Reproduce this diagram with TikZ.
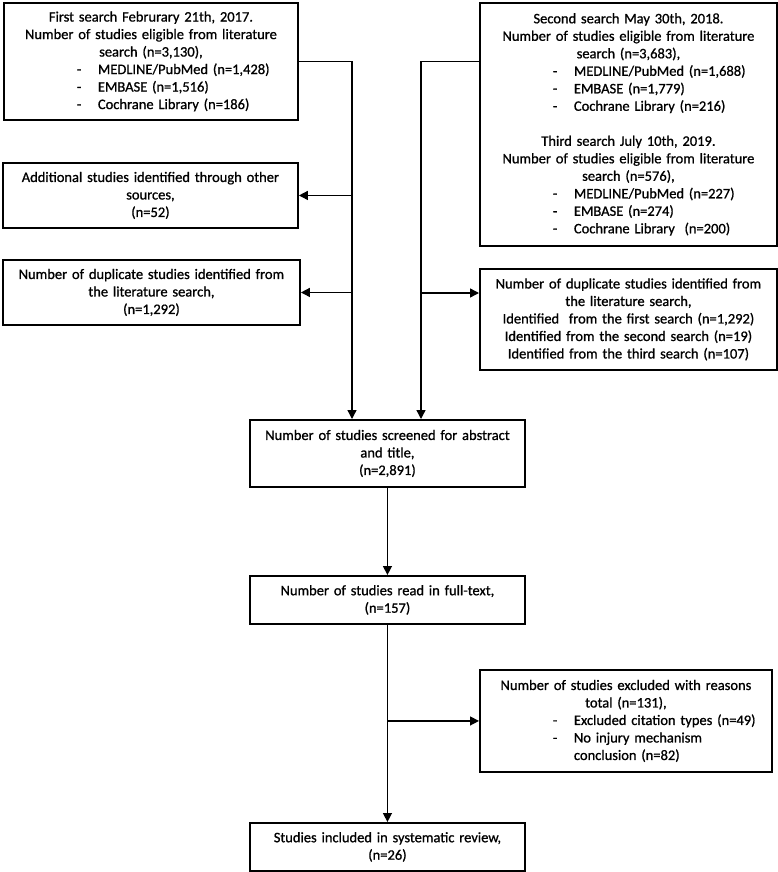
\documentclass[tikz,border=0pt]{standalone}
\usepackage{fontspec}
\setmainfont{Carlito}[FakeBold=0.9]
\usetikzlibrary{arrows.meta}
\newcommand\cl[1]{\makebox[\linewidth][c]{#1}}
\newcommand\bl[1]{\hspace*{73pt}\makebox[21pt][l]{-}#1}
\tikzset{
  box/.style={draw, line width=1.9pt, inner xsep=0pt, inner ysep=2pt, align=left,
    anchor=north west, font=\fontsize{14.5}{17.5}\selectfont},
  arr/.style={line width=1.4pt, -{Triangle[length=9pt,width=9pt]}},
}
\begin{document}
\begin{tikzpicture}[x=1pt,y=-1pt]
\useasboundingbox (0,0) rectangle (778,872);
\node[box, text width=294pt, minimum height=117pt] (A) at (3,2) {%
\cl{First search Februrary 21th, 2017.}\\
\cl{Number of studies eligible from literature}\\
\cl{search (n=3,130),}\\
\bl{MEDLINE/PubMed (n=1,428)}\\
\bl{EMBASE (n=1,516)}\\
\bl{Cochrane Library (n=186)}};
\node[box, text width=297pt, minimum height=243pt] (B) at (479,2) {%
\cl{Second search May 30th, 2018.}\\
\cl{Number of studies eligible from literature}\\
\cl{search (n=3,683),}\\
\bl{MEDLINE/PubMed (n=1,688)}\\
\bl{EMBASE (n=1,779)}\\
\bl{Cochrane Library (n=216)}\\
\cl{}\\
\cl{Third search July 10th, 2019.}\\
\cl{Number of studies eligible from literature}\\
\cl{search (n=576),}\\
\bl{MEDLINE/PubMed (n=227)}\\
\bl{EMBASE (n=274)}\\
\bl{Cochrane Library \ (n=200)}};
\node[box, text width=295pt, minimum height=65pt] (C) at (2,162) {%
\cl{Additional studies identified through other}\\
\cl{sources,}\\
\cl{(n=52)}};
\node[box, text width=297pt, minimum height=65pt] (D) at (2,259) {%
\cl{Number of duplicate studies identified from}\\
\cl{the literature search,}\\
\cl{(n=1,292)}};
\node[box, text width=297pt, minimum height=101pt] (E) at (479,268) {%
\cl{Number of duplicate studies identified from}\\
\cl{the literature search,}\\
\cl{Identified \ from the first search (n=1,292)}\\
\cl{Identified from the second search (n=19)}\\
\cl{Identified from the third search (n=107)}};
\node[box, text width=275pt, minimum height=67pt] (F) at (249,419) {%
\cl{Number of studies screened for abstract}\\
\cl{and title,}\\
\cl{(n=2,891)}};
\node[box, text width=275pt, minimum height=48pt] (G) at (249,575) {%
\cl{Number of studies read in full-text,}\\
\cl{(n=157)}};
\node[box, text width=292pt, minimum height=102pt] (H) at (479,669) {%
\cl{Number of studies excluded with reasons}\\
\cl{total (n=131),}\\
\bl{Excluded citation types (n=49)}\\
\bl{No injury mechanism}\\
\hspace*{94pt}conclusion (n=82)};
\node[box, text width=275pt, minimum height=48pt] (I) at (249,822) {%
\cl{Studies included in systematic review,}\\
\cl{(n=26)}};
\coordinate (xl) at (352,0);
\coordinate (xr) at (421,0);
\coordinate (ye) at (0,293);
\draw[arr] (A.east) -| (xl |- F.north);
\draw[arr] (xl |- C.east) -- (C.east);
\draw[arr] (xl |- D.east) -- (D.east);
\draw[arr] (B.west |- A.east) -| (xr |- F.north);
\draw[arr] (xr |- ye) -- (E.west |- ye);
\draw[arr] (F.south) -- (G.north);
\draw[arr] (G.south) -- (I.north);
\draw[arr] (G.south |- H.west) -- (H.west);
\end{tikzpicture}
\end{document}
